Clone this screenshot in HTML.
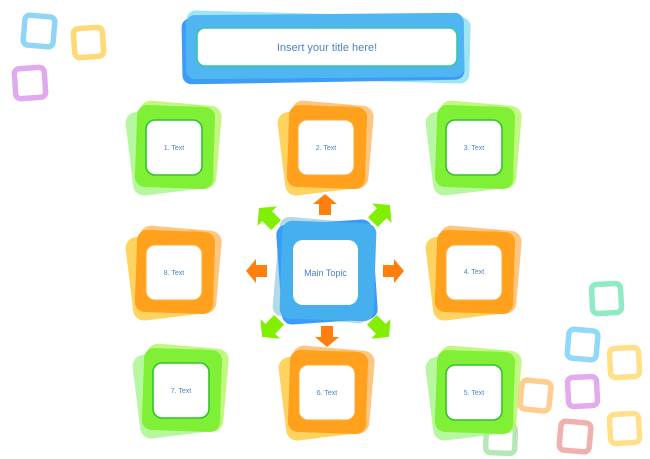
<!DOCTYPE html>
<html><head><meta charset="utf-8">
<style>
html,body{margin:0;padding:0;background:#fff;}
svg{display:block;}
text{font-family:"Liberation Sans",sans-serif;}
</style></head>
<body>
<svg width="650" height="459" viewBox="0 0 650 459" xmlns="http://www.w3.org/2000/svg">
<defs>
  <g id="gnode">
    <rect x="-42" y="-41" width="82" height="84" rx="11" fill="#a6f58a" opacity="0.8" transform="translate(-3,2) rotate(-7)"/>
    <rect x="-40" y="-43" width="82" height="83" rx="11" fill="#b4f562" opacity="0.8" transform="translate(3,-1) rotate(5)"/>
    <rect x="-38" y="-41" width="78" height="82" rx="10" fill="#80f036" transform="rotate(2)"/>
    <rect x="-28" y="-27" width="56" height="55" rx="9" fill="#fff" stroke="#33c22e" stroke-width="1.6"/>
  </g>
  <g id="onode">
    <rect x="-42" y="-41" width="82" height="84" rx="11" fill="#ffc838" opacity="0.8" transform="translate(-3,2) rotate(-7)"/>
    <rect x="-40" y="-43" width="82" height="83" rx="11" fill="#ffb860" opacity="0.8" transform="translate(3,-1) rotate(5)"/>
    <rect x="-38" y="-41" width="78" height="82" rx="10" fill="#ffa11c" transform="rotate(2)"/>
    <rect x="-28" y="-27" width="56" height="55" rx="9" fill="#fff" stroke="#ffac3a" stroke-width="1"/>
  </g>
  <polygon id="arr" points="0,-11 12,-1 6,-1 6,10 -6,10 -6,-1 -12,-1"/>
</defs>

<!-- decorative squares top-left -->
<g fill="none" stroke-width="5.5">
  <rect x="24" y="16" width="30" height="30" rx="5" stroke="#8fd6f6" transform="rotate(5 39 31)"/>
  <rect x="74" y="28" width="29" height="29" rx="5" stroke="#ffd878" transform="rotate(-4 88 42)"/>
  <rect x="15" y="68" width="30" height="30" rx="5" stroke="#e2aaee" transform="rotate(-4 30 83)"/>
</g>
<!-- decorative squares bottom-right -->
<g fill="none" stroke-width="5.5">
  <rect x="592" y="284" width="29" height="29" rx="5" stroke="#90eac4" transform="rotate(-3 606 298)"/>
  <rect x="568" y="330" width="29" height="29" rx="5" stroke="#92d8f8" transform="rotate(5 582 345)"/>
  <rect x="610" y="348" width="29" height="29" rx="5" stroke="#ffdf88" transform="rotate(-3 624 362)"/>
  <rect x="521" y="381" width="29" height="29" rx="5" stroke="#ffcd90" transform="rotate(6 535 396)"/>
  <rect x="568" y="377" width="29" height="29" rx="5" stroke="#e4aaee" transform="rotate(-3 582 391)"/>
  <rect x="560" y="422" width="30" height="29" rx="5" stroke="#efb0ae" transform="rotate(5 575 437)"/>
  <rect x="610" y="414" width="29" height="29" rx="5" stroke="#ffdf88" transform="rotate(-3 624 428)"/>
  <rect x="486" y="425" width="29" height="28" rx="5" stroke="#b8e6b8" transform="rotate(2 500 439)"/>
</g>

<!-- title -->
<g>
  <rect x="186" y="14" width="284" height="66" rx="9" fill="#86def2" opacity="0.8" transform="rotate(1.5 328 47)"/>
  <rect x="182" y="16" width="282" height="66" rx="9" fill="#3c9cf6" transform="rotate(-1 323 49)"/>
  <rect x="186" y="14" width="278" height="64" rx="9" fill="#4fb6f2" transform="rotate(-0.5 325 46)"/>
  <rect x="197" y="28" width="260" height="38" rx="8" fill="#fff" stroke="#3cc6a0" stroke-width="1.6"/>
  <text x="327" y="51" font-size="11" fill="#4a84c6" text-anchor="middle">Insert your title here!</text>
</g>

<!-- nodes -->
<use href="#gnode" transform="translate(174,147)"/>
<use href="#onode" transform="translate(326,147)"/>
<use href="#gnode" transform="translate(474,147)"/>
<use href="#onode" transform="translate(174,272)"/>
<use href="#onode" transform="translate(474,272)"/>
<use href="#gnode" transform="translate(181,390)"/>
<use href="#onode" transform="translate(327,392)"/>
<use href="#gnode" transform="translate(474,392)"/>

<g font-size="7" fill="#4a84c6" text-anchor="middle">
  <text x="174" y="150">1. Text</text>
  <text x="326" y="150">2. Text</text>
  <text x="474" y="150">3. Text</text>
  <text x="174" y="275">8. Text</text>
  <text x="474" y="274">4. Text</text>
  <text x="181" y="393">7. Text</text>
  <text x="327" y="395">6. Text</text>
  <text x="474" y="395">5. Text</text>
</g>

<!-- main topic -->
<g>
  <rect x="-48" y="-50" width="96" height="100" rx="10" fill="#a6d4e6" opacity="0.85" transform="translate(324,270) rotate(5)"/>
  <rect x="-48" y="-50" width="96" height="100" rx="10" fill="#3a9cf8" transform="translate(327,272) rotate(-4)"/>
  <rect x="-47" y="-49" width="94" height="98" rx="10" fill="#46b0ee" transform="translate(328,271) rotate(2)"/>
  <rect x="293" y="240" width="65" height="65" rx="10" fill="#fff"/>
  <text x="325.5" y="276" font-size="9" fill="#4a7ec6" text-anchor="middle">Main Topic</text>
</g>

<!-- arrows -->
<g fill="#ff7f0c">
  <use href="#arr" transform="translate(325,205)"/>
  <use href="#arr" transform="translate(327,336) rotate(180)"/>
  <use href="#arr" transform="translate(257,271) rotate(-90)"/>
  <use href="#arr" transform="translate(393,271) rotate(90)"/>
</g>
<g fill="#80f000">
  <use href="#arr" transform="translate(268,217) rotate(-45) scale(1.15)"/>
  <use href="#arr" transform="translate(381,214) rotate(45) scale(1.15)"/>
  <use href="#arr" transform="translate(271,328) rotate(-135) scale(1.15)"/>
  <use href="#arr" transform="translate(380,328) rotate(135) scale(1.15)"/>
</g>
</svg>
</body></html>
